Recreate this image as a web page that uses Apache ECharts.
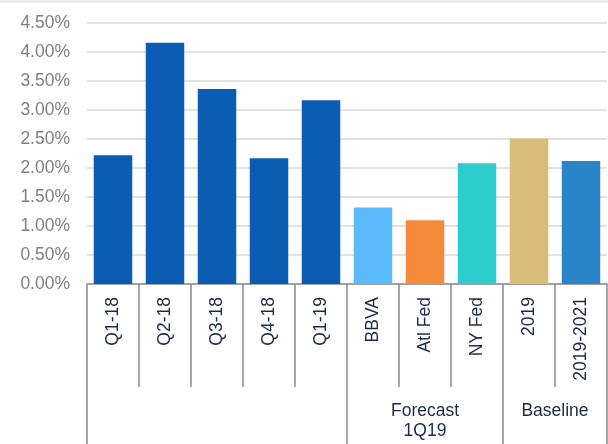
<!DOCTYPE html>
<html>
<head>
<meta charset="utf-8">
<script src="https://cdn.jsdelivr.net/npm/echarts@6/dist/echarts.min.js"></script>
<style>
html,body{margin:0;padding:0;background:#fff;}
#c{width:608px;height:444px;}
</style>
</head>
<body>
<div id="c"></div>
<script>
// Data
var categories = ['Q1-18','Q2-18','Q3-18','Q4-18','Q1-19','BBVA','Atl Fed','NY Fed','2019','2019-2021'];
var values = [2.22, 4.16, 3.36, 2.17, 3.17, 1.32, 1.10, 2.08, 2.51, 2.12];
var barColors = ['#0b5cb3','#0b5cb3','#0b5cb3','#0b5cb3','#0b5cb3','#5bbbfd','#f58a3b','#2ecdcd','#d8bc77','#2a84c8'];
var groupNames = ['', 'Forecast\n1Q19', 'Baseline'];
var groupSizes = [5, 3, 2];
var yTickMax = 4.5, yTickStep = 0.5;

// group boundaries / centres in category units
var bounds = [0], centres = [], acc = 0;
groupSizes.forEach(function(n){ centres.push(acc + n/2); acc += n; bounds.push(acc); });
var labelMap = {};
centres.forEach(function(c,i){ labelMap[c] = groupNames[i]; });

var FONT = 'Liberation Sans, Arial, sans-serif';
var chart = echarts.init(document.getElementById('c'), null, {renderer:'canvas'});
chart.setOption({
  animation: false,
  backgroundColor: '#ffffff',
  graphic: [{type:'rect', shape:{x:0,y:0,width:608,height:3}, style:{fill:'#ebebeb'}, silent:true}],
  grid: {left: 87, right: 1, top: 23, bottom: 160, containLabel: false},
  xAxis: [{
    type: 'category',
    data: categories,
    boundaryGap: true,
    axisLine: {show: true, lineStyle: {color: '#8c8c8c', width: 1.5}},
    axisTick: {show: true, alignWithLabel: false, length: 103, lineStyle: {color: '#8c8c8c', width: 1.5}},
    axisLabel: {rotate: 90, margin: 13, color: '#1d2a47', fontSize: 17.5, fontFamily: FONT, interval: 0}
  }, {
    type: 'value',
    position: 'bottom',
    min: 0, max: categories.length,
    axisLine: {show: false},
    splitLine: {show: false},
    axisTick: {show: true, customValues: bounds, length: 160, lineStyle: {color: '#8c8c8c', width: 1.5}},
    axisLabel: {show: true, customValues: centres.slice(1), margin: 117, color: '#1d2a47', fontSize: 17.5, lineHeight: 20, fontFamily: FONT,
      formatter: function(v){ return labelMap[v] || ''; }}
  }],
  yAxis: {
    type: 'value',
    min: 0, max: yTickMax, interval: yTickStep,
    axisLine: {show: false},
    axisTick: {show: false},
    splitLine: {show: true, lineStyle: {color: '#d9d9d9', width: 1.5}},
    axisLabel: {color: '#808080', fontSize: 17.5, fontFamily: FONT, margin: 17,
      formatter: function(v){ return v.toFixed(2) + '%'; }}
  },
  series: [{
    type: 'bar',
    xAxisIndex: 0,
    barCategoryGap: '26%',
    data: values.map(function(v,i){ return {value: v, itemStyle: {color: barColors[i]}}; })
  }]
});
</script>
</body>
</html>
